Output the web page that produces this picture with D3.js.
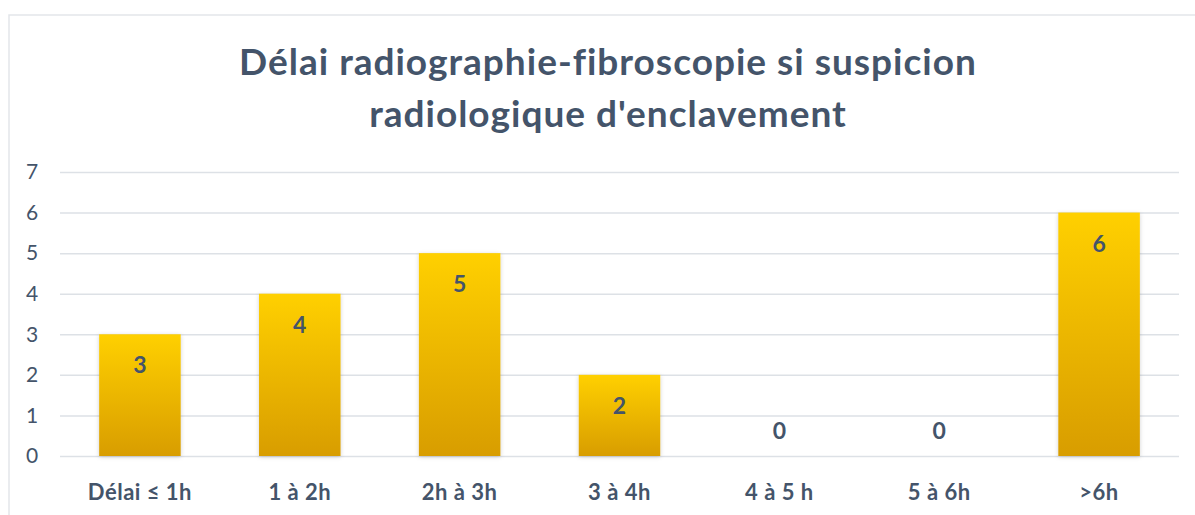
<!DOCTYPE html>
<html lang="fr">
<head>
<meta charset="utf-8">
<title>Délai radiographie-fibroscopie</title>
<script src="https://cdnjs.cloudflare.com/ajax/libs/d3/7.8.5/d3.min.js"></script>
<style>
  body { margin: 0; background: #fff; }
  svg { display: block; font-family: Lato, "Open Sans", sans-serif; }
</style>
</head>
<body>
<div class="chart"></div>
<script>
var categories = ["Délai ≤ 1h", "1 à 2h", "2h à 3h", "3 à 4h", "4 à 5 h", "5 à 6h", ">6h"];
var values = [3, 4, 5, 2, 0, 0, 6];
var yTicks = [0, 1, 2, 3, 4, 5, 6, 7];
var titleLines = ["Délai radiographie-fibroscopie si suspicion", "radiologique d'enclavement"];

var width = 1195, height = 515;
var textColor = "#44546A";

var svg = d3.select(".chart").append("svg")
    .attr("width", width)
    .attr("height", height);

var defs = svg.append("defs");
var grad = defs.append("linearGradient")
    .attr("id", "barGrad")
    .attr("x1", 0).attr("y1", 0).attr("x2", 0).attr("y2", 1);
grad.append("stop").attr("offset", "0%").attr("stop-color", "#FFD000");
grad.append("stop").attr("offset", "100%").attr("stop-color", "#D89D00");

var shadow = defs.append("filter").attr("id", "shadow")
    .attr("x", "-20%").attr("y", "-10%").attr("width", "140%").attr("height", "120%");
shadow.append("feDropShadow")
    .attr("dx", 0).attr("dy", 1).attr("stdDeviation", 2)
    .attr("flood-color", "#000").attr("flood-opacity", 0.18);

// chart frame
svg.append("rect")
    .attr("x", 9).attr("y", 15)
    .attr("width", 1200).attr("height", 520)
    .attr("fill", "none")
    .attr("stroke", "#E3E6EA")
    .attr("stroke-width", 1.5);

// title
svg.append("g").selectAll("text")
    .data(titleLines)
  .enter().append("text")
    .attr("x", 608)
    .attr("y", function(d, i) { return 75 + i * 52; })
    .attr("text-anchor", "middle")
    .attr("font-size", 37)
    .attr("letter-spacing", 1)
    .attr("font-weight", "bold")
    .attr("fill", textColor)
    .text(function(d) { return d; });

var margin = {left: 60, right: 16, top: 172, bottom: 59};

var x = d3.scaleBand()
    .domain(categories)
    .range([margin.left, width - margin.right])
    .paddingInner(0.49)
    .paddingOuter(0.245);

var y = d3.scaleLinear()
    .domain([0, 7])
    .range([height - margin.bottom, margin.top]);

// gridlines
var yAxis = d3.axisLeft(y)
    .tickValues(yTicks)
    .tickSize(-(width - margin.left - margin.right))
    .tickFormat(d3.format("d"));

var gy = svg.append("g")
    .attr("transform", "translate(" + margin.left + ",0)")
    .call(yAxis);
gy.select(".domain").remove();
gy.selectAll(".tick line").attr("stroke", "#DDE1E6").attr("stroke-width", 1.5);
gy.selectAll(".tick text")
    .attr("font-size", 21)
    .attr("fill", textColor)
    .attr("font-family", "Lato, sans-serif")
    .attr("text-anchor", "middle")
    .attr("x", -28);

// bars
svg.append("g").selectAll("rect")
    .data(values)
  .enter().append("rect")
    .attr("x", function(d, i) { return x(categories[i]); })
    .attr("y", function(d) { return y(d); })
    .attr("width", x.bandwidth())
    .attr("height", function(d) { return y(0) - y(d); })
    .attr("fill", "url(#barGrad)")
    .attr("filter", "url(#shadow)");

// value labels
svg.append("g").selectAll("text")
    .data(values)
  .enter().append("text")
    .attr("x", function(d, i) { return x(categories[i]) + x.bandwidth() / 2; })
    .attr("y", function(d) { return d > 0 ? y(d) + 39 : y(0) - 17.5; })
    .attr("text-anchor", "middle")
    .attr("font-size", 23)
    .attr("font-weight", "bold")
    .attr("fill", textColor)
    .text(function(d) { return d; });

// category axis
var xAxis = d3.axisBottom(x).tickSize(0).tickPadding(28);
var gx = svg.append("g")
    .attr("transform", "translate(0," + y(0) + ")")
    .call(xAxis);
gx.select(".domain").remove();
gx.selectAll(".tick text")
    .attr("font-size", 22)
    .attr("letter-spacing", 0.5)
    .attr("font-weight", "bold")
    .attr("font-family", "Lato, sans-serif")
    .attr("fill", textColor);
</script>
</body>
</html>
